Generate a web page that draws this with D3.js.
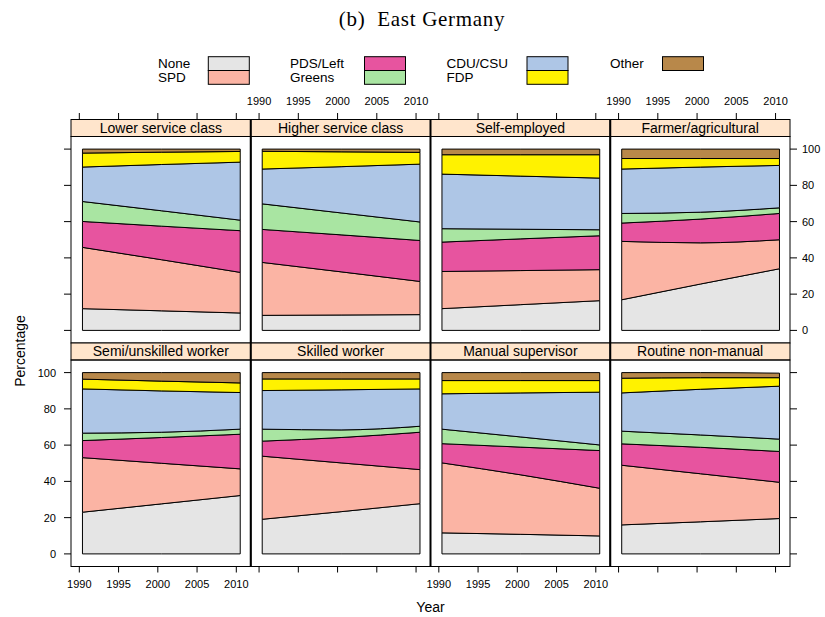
<!DOCTYPE html>
<html>
<head>
<meta charset="utf-8">
<script src="https://cdn.jsdelivr.net/npm/d3@7"></script>
<style>
  html, body { margin: 0; padding: 0; background: #fff; }
  svg { display: block; }
  text { font-family: "Liberation Sans", Arial, sans-serif; fill: #000; }
</style>
</head>
<body>
<svg id="chart" width="825" height="617"></svg>
<script>
// ---- data (percentages) ----
const years = [1990.4, 2000.45, 2010.5];
const classes = ["Lower service class", "Higher service class", "Self-employed", "Farmer/agricultural",
                 "Semi/unskilled worker", "Skilled worker", "Manual supervisor", "Routine non-manual"];
const parties = ["None", "SPD", "PDS/Left", "Greens", "CDU/CSU", "FDP", "Other"];
const partyColors = ["#e5e5e5", "#fbb4a4", "#e7549f", "#a9e5a2", "#aec6e6", "#fff200", "#b8884a"];

// each row: one class (same order as classes), values at the years above
const none   = [[12.0,10.8,9.6],[8.3,8.5,8.7],[12.0,14.2,16.4],[16.9,25.6,34.0],[23.0,27.6,32.2],[19.1,23.3,27.7],[11.6,10.8,9.9],[16.0,17.7,19.5]];
const spd    = [[33.8,28.2,22.4],[29.2,23.8,18.3],[20.5,18.8,17.1],[32.2,22.7,16.0],[30.1,22.4,14.7],[34.8,26.9,18.8],[38.6,32.8,26.3],[32.9,26.5,20.0]];
const pds    = [[14.3,18.5,23.0],[18.2,20.4,22.6],[16.2,17.5,18.7],[10.1,13.1,14.5],[9.4,14.2,19.1],[8.3,14.0,20.6],[10.6,15.3,20.8],[11.8,14.6,17.0]];
const greens = [[11.0,8.5,5.8],[14.1,12.1,10.2],[7.4,5.3,3.3],[5.3,3.8,3.1],[4.1,2.9,2.8],[6.6,4.2,3.3],[8.0,5.6,3.1],[7.0,6.8,6.8]];
const cdu    = [[19.0,25.5,32.0],[19.2,25.5,31.9],[30.1,29.3,28.5],[24.5,24.9,23.4],[24.4,22.8,20.2],[21.3,22.1,20.6],[19.5,24.3,29.1],[21.1,25.2,29.2]];
const fdp    = [[7.7,6.8,5.9],[9.8,8.2,6.5],[10.7,11.8,12.9],[5.8,4.7,3.8],[5.4,5.4,5.3],[6.4,6.0,5.5],[7.3,6.8,6.4],[8.1,6.4,4.7]];
const other  = [[2.2,1.7,1.3],[1.2,1.5,1.8],[3.1,3.1,3.1],[5.2,5.2,5.2],[3.6,4.7,5.7],[3.5,3.5,3.5],[4.4,4.4,4.4],[3.1,2.8,2.5]];
const seriesValues = [none, spd, pds, greens, cdu, fdp, other];

const xTicks = [1990, 1995, 2000, 2005, 2010];
const yTicks = [0, 20, 40, 60, 80, 100];

// ---- layout ----
const svg = d3.select("#chart");
const L0 = 71, R0 = 790, nCol = 4;
const colW = (R0 - L0) / nCol;
const stripH = 17, panelH = 206.5;
const rowTop = [119.5, 343];          // top of strip for each row
const xDomain = [1988.94, 2011.84];
const yPad = 6.95;

// title
svg.append("text").attr("x", 422).attr("y", 26).attr("text-anchor", "middle")
  .style("font-family", "'Liberation Serif', 'DejaVu Serif', serif").style("font-size", "21px")
  .style("letter-spacing", "0.7px").attr("xml:space", "preserve")
  .text("(b)  East Germany");

// legend
const legCols = [
  {tx: 158, rx: 208.3, items: [0, 1]},
  {tx: 290, rx: 364.5, items: [2, 3]},
  {tx: 446.5, rx: 527, items: [4, 5]},
  {tx: 610, rx: 662.5, items: [6]}
];
const legTop = 56.7, legRowH = 13.8;
legCols.forEach(c => {
  c.items.forEach((pi, k) => {
    svg.append("text").attr("x", c.tx).attr("y", legTop + k * legRowH + 11)
      .style("font-size", "13.5px").text(parties[pi]);
    svg.append("rect").attr("x", c.rx).attr("y", legTop + k * legRowH)
      .attr("width", 41).attr("height", legRowH)
      .attr("fill", partyColors[pi]).attr("stroke", "#000").attr("stroke-width", 1);
  });
});

// panels
classes.forEach((cls, ci) => {
  const row = Math.floor(ci / nCol), col = ci % nCol;
  const left = L0 + col * colW, right = left + colW;
  const sTop = rowTop[row], pTop = sTop + stripH, pBot = pTop + panelH;
  const x = d3.scaleLinear().domain(xDomain).range([left, right]);
  const y = d3.scaleLinear().domain([-yPad, 100 + yPad]).range([pBot, pTop]);

  const rows = years.map((yr, t) => {
    const o = {year: yr};
    parties.forEach((p, pi) => { o[p] = seriesValues[pi][ci][t]; });
    return o;
  });
  const stack = d3.stack().keys(parties)(rows);
  const area = d3.area().x(d => x(d.data.year)).y0(d => y(d[0])).y1(d => y(d[1]))
    .curve(d3.curveMonotoneX);

  const g = svg.append("g");
  g.selectAll("path.layer").data(stack).join("path")
    .attr("class", "layer")
    .attr("d", area)
    .attr("fill", (d, i) => partyColors[i])
    .attr("stroke", "#000").attr("stroke-width", 1).attr("stroke-linejoin", "round");

  // strip
  g.append("rect").attr("x", left).attr("y", sTop).attr("width", colW).attr("height", stripH)
    .attr("fill", "#ffe5cc").attr("stroke", "#000").attr("stroke-width", 1);
  g.append("text").attr("x", (left + right) / 2).attr("y", sTop + 13.2)
    .attr("text-anchor", "middle").style("font-size", "14px").text(cls);

  // panel frame
  g.append("rect").attr("x", left).attr("y", pTop).attr("width", colW).attr("height", panelH)
    .attr("fill", "none").attr("stroke", "#000").attr("stroke-width", 1);

  // x ticks: top row -> ticks at top, bottom row -> ticks at bottom
  const tickG = svg.append("g").attr("class", "axis");
  if (row === 0) {
    xTicks.forEach(t => {
      tickG.append("line").attr("x1", x(t)).attr("x2", x(t)).attr("y1", sTop).attr("y2", sTop - 6.5)
        .attr("stroke", "#000");
      if (col % 2 === 1) tickG.append("text").attr("x", x(t)).attr("y", sTop - 14.5)
        .attr("text-anchor", "middle").style("font-size", "11px").text(t);
    });
  } else {
    xTicks.forEach(t => {
      tickG.append("line").attr("x1", x(t)).attr("x2", x(t)).attr("y1", pBot).attr("y2", pBot + 6)
        .attr("stroke", "#000");
      if (col % 2 === 0) tickG.append("text").attr("x", x(t)).attr("y", pBot + 21.5)
        .attr("text-anchor", "middle").style("font-size", "11px").text(t);
    });
  }
  // y ticks
  if (col === 0) {
    yTicks.forEach(t => {
      tickG.append("line").attr("x1", left).attr("x2", left - 7).attr("y1", y(t)).attr("y2", y(t))
        .attr("stroke", "#000");
      if (row === 1) tickG.append("text").attr("x", 56).attr("y", y(t) + 4)
        .attr("text-anchor", "end").style("font-size", "11px").text(t);
    });
  }
  if (col === nCol - 1) {
    yTicks.forEach(t => {
      tickG.append("line").attr("x1", right).attr("x2", right + 7).attr("y1", y(t)).attr("y2", y(t))
        .attr("stroke", "#000");
      if (row === 0) tickG.append("text").attr("x", 802).attr("y", y(t) + 4)
        .attr("text-anchor", "start").style("font-size", "11px").text(t);
    });
  }
});

// thicker separators between columns
for (let c = 1; c < nCol; c++) {
  const xs = L0 + c * colW;
  svg.append("line").attr("x1", xs).attr("x2", xs).attr("y1", rowTop[0]).attr("y2", rowTop[1] + stripH + panelH)
    .attr("stroke", "#000").attr("stroke-width", 2);
}

// axis titles
svg.append("text").attr("x", (L0 + R0) / 2).attr("y", 612).attr("text-anchor", "middle")
  .style("font-size", "14px").text("Year");
svg.append("text").attr("transform", "translate(25,351) rotate(-90)").attr("text-anchor", "middle")
  .style("font-size", "14px").text("Percentage");
</script>
</body>
</html>
